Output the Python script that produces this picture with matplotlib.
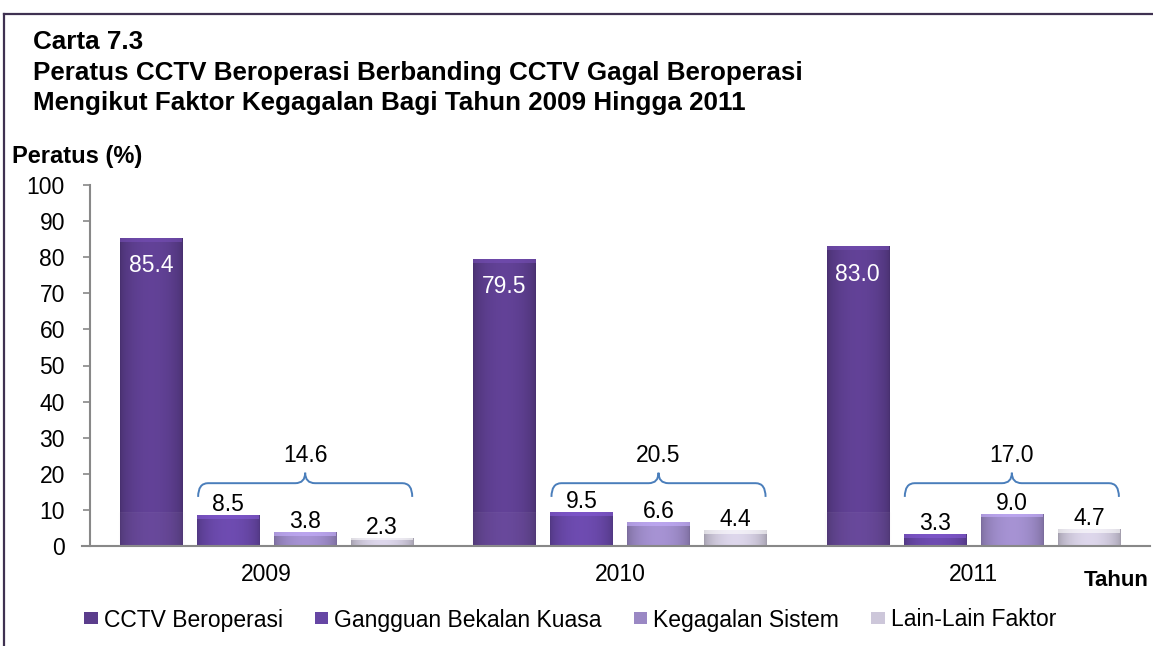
import matplotlib
matplotlib.use("Agg")
import matplotlib.pyplot as plt
import numpy as np
from matplotlib.path import Path
from matplotlib.patches import PathPatch
from matplotlib.lines import Line2D
from matplotlib.colors import to_rgb

plt.rcParams['font.family'] = ['Liberation Sans', 'DejaVu Sans']

years = ['2009', '2010', '2011']
series_names = ['CCTV Beroperasi', 'Gangguan Bekalan Kuasa', 'Kegagalan Sistem', 'Lain-Lain Faktor']
cctv_beroperasi = [85.4, 79.5, 83.0]
gangguan_bekalan = [8.5, 9.5, 3.3]
kegagalan_sistem = [3.8, 6.6, 9.0]
lain_lain = [2.3, 4.4, 4.7]
gagal_total = [14.6, 20.5, 17.0]
yticks = list(range(0, 101, 10))

series = [cctv_beroperasi, gangguan_bekalan, kegagalan_sistem, lain_lain]
colors = ['#5b3d8c', '#6646a4', '#9a88c4', '#cdc7da']

FS = 16.5
W, H = 1153, 646
fig = plt.figure(figsize=(W / 100, H / 100), dpi=100)
ax = fig.add_axes([90 / W, 1 - 546 / H, 1060 / W, (546 - 185) / H])

x = np.arange(len(years))
slot = 0.218
bw = 0.176


def shade(ax, rect, color):
    c = np.array(to_rgb(color))
    n = 64
    t = np.linspace(0, 1, n)
    prof = 0.80 + 0.28 * np.sin(np.pi * t) ** 0.6
    img = np.clip(c[None, None, :] * prof[None, :, None], 0, 1)
    img = np.repeat(img, 2, axis=0)
    x0, y0 = rect.get_x(), rect.get_y()
    w, h = rect.get_width(), rect.get_height()
    im = ax.imshow(img, extent=[x0, x0 + w, y0, y0 + h], aspect='auto',
                   origin='lower', zorder=2, interpolation='bilinear')
    im.set_clip_path(rect)
    top_h = min(1.1, h * 0.3)
    ax.add_patch(plt.Rectangle((x0, y0 + h - top_h), w, top_h,
                               facecolor=np.clip(c * 1.3, 0, 1), edgecolor='none',
                               alpha=0.6, zorder=3))


for i, (vals, col, name) in enumerate(zip(series, colors, series_names)):
    bars = ax.bar(x + (i - 1.5) * slot, vals, bw, color=col, label=name,
                  edgecolor='none', zorder=1)
    for rect, v in zip(bars, vals):
        shade(ax, rect, col)
        cx = rect.get_x() + rect.get_width() / 2
        if i == 0:
            ax.add_patch(plt.Rectangle((rect.get_x() - 0.004, 0), rect.get_width() + 0.008, 9.5,
                                       facecolor='#e8d8f0', alpha=0.05,
                                       edgecolor='#e4dce8', lw=0.8, zorder=3))
            ax.text(cx, v - 9.5, f'{v:.1f}', ha='center', va='baseline',
                    color='white', fontsize=FS, zorder=5)
        else:
            ax.text(cx, v + 1.1, f'{v:.1f}', ha='center', va='baseline',
                    color='black', fontsize=FS, zorder=5)

# braces over the failure factors
bc = '#4a7ebb'
for j, tot in enumerate(gagal_total):
    xl = x[j] + (1 - 1.5) * slot - bw / 2 + 0.003
    xr = x[j] + (3 - 1.5) * slot + bw / 2 - 0.003
    xm = (xl + xr) / 2
    yb, yh, yp = 13.6, 17.4, 20.3
    r = 0.028
    verts = [(xl, yb), (xl, yh), (xl + r, yh),
             (xm - r, yh), (xm, yh), (xm, yp),
             (xm, yp), (xm, yh), (xm + r, yh),
             (xr - r, yh), (xr, yh), (xr, yb)]
    codes = [Path.MOVETO, Path.CURVE3, Path.CURVE3,
             Path.LINETO, Path.CURVE3, Path.CURVE3,
             Path.MOVETO, Path.CURVE3, Path.CURVE3,
             Path.LINETO, Path.CURVE3, Path.CURVE3]
    ax.add_patch(PathPatch(Path(verts, codes), facecolor='none', edgecolor=bc,
                           lw=1.4, zorder=4))
    ax.text(xm, 23.2, f'{tot:.1f}', ha='center', va='baseline', fontsize=FS, zorder=5)

ax.set_xlim(-0.5, 2.5)
ax.set_ylim(0, 100)
ax.set_yticks(yticks)
ax.set_yticklabels([str(v) for v in yticks], fontsize=FS)
ax.set_xticks(x)
ax.set_xticklabels(years, fontsize=FS)
ax.tick_params(axis='x', length=0, pad=12)
ax.tick_params(axis='y', direction='out', length=5, color='#888888', width=1.2, pad=13)
for s in ['top', 'right']:
    ax.spines[s].set_visible(False)
for s in ['left', 'bottom']:
    ax.spines[s].set_color('#888888')
    ax.spines[s].set_linewidth(1.5)
ax.spines['bottom'].set_bounds(-0.5 - 8 / 353, 2.5)

leg = fig.legend(loc='center', bbox_to_anchor=(570 / W, 1 - 620 / H), ncol=4,
                 frameon=False, fontsize=FS, handlelength=0.6, handleheight=0.45,
                 handletextpad=0.25, columnspacing=1.4)

TF = 18.7
fig.text(33 / W, 1 - 42 / H, 'Carta 7.3', fontsize=TF, fontweight='bold', va='center')
fig.text(33 / W, 1 - 73 / H, 'Peratus CCTV Beroperasi Berbanding CCTV Gagal Beroperasi',
         fontsize=TF, fontweight='bold', va='center')
fig.text(33 / W, 1 - 103 / H, 'Mengikut Faktor Kegagalan Bagi Tahun 2009 Hingga 2011',
         fontsize=TF, fontweight='bold', va='center')
fig.text(12 / W, 1 - 157 / H, 'Peratus (%)', fontsize=17, fontweight='bold', va='center')
fig.text(1149 / W, 1 - 580 / H, 'Tahun', fontsize=16, fontweight='bold', va='center', ha='right')

bcol = '#3f3151'
fig.add_artist(Line2D([4 / W, 1152 / W], [1 - 14 / H, 1 - 14 / H], color=bcol, lw=1.6,
                      transform=fig.transFigure))
fig.add_artist(Line2D([4 / W, 4 / W], [1 - 14 / H, 0], color=bcol, lw=1.6,
                      transform=fig.transFigure))

fig.savefig('out.png', dpi=100)
